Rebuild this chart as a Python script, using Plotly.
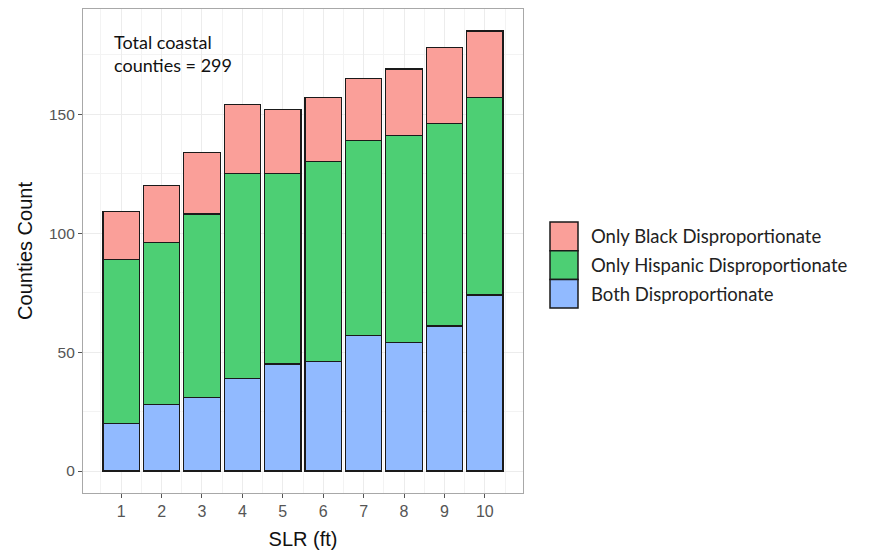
import plotly.graph_objects as go

slr = [1, 2, 3, 4, 5, 6, 7, 8, 9, 10]
both = [20, 28, 31, 39, 45, 46, 57, 54, 61, 74]
only_hispanic = [69, 68, 77, 86, 80, 84, 82, 87, 85, 83]
only_black = [20, 24, 26, 29, 27, 27, 26, 28, 32, 28]

names = ["Only Black Disproportionate", "Only Hispanic Disproportionate", "Both Disproportionate"]
colors = {"Both Disproportionate": "#91BAFF",
          "Only Hispanic Disproportionate": "#4DCF74",
          "Only Black Disproportionate": "#FA9F99"}

fig = go.Figure()
for nm, vals in [("Both Disproportionate", both),
                 ("Only Hispanic Disproportionate", only_hispanic),
                 ("Only Black Disproportionate", only_black)]:
    fig.add_trace(go.Bar(x=slr, y=vals, name=nm, width=0.9,
                         marker=dict(color=colors[nm], line=dict(color="#1a1a1a", width=1.3)),
                         showlegend=False))

OFF = 8  # page body margin
W, H = 874 - OFF, 550 - OFF
# plot panel in page pixels: x 83..523, y 9..493
L = 83 - OFF
T = 9 - OFF
R = W - (523 - OFF)
B = H - (493 - OFF)
pw, ph = W - L - R, H - T - B

def px(x):
    return (x - OFF - L) / pw

def py(y):
    return (H - B - (y - OFF)) / ph

shapes = []
annotations = []
key_top = 222
key_h = 28.7
for i, nm in enumerate(names):
    y0 = key_top + i * key_h
    shapes.append(dict(type="rect", xref="paper", yref="paper",
                       x0=px(550), x1=px(578), y0=py(y0 + key_h), y1=py(y0),
                       fillcolor=colors[nm], line=dict(color="#1a1a1a", width=1.5)))
    annotations.append(dict(xref="paper", yref="paper", x=px(589), y=py(y0 + key_h / 2),
                            xanchor="left", yanchor="middle", showarrow=False, text=nm,
                            font=dict(family="Lato", size=18.5, color="#222222")))

annotations.append(dict(xref="paper", yref="paper", x=px(112), y=py(29),
                        xanchor="left", yanchor="top", align="left", showarrow=False,
                        text="Total coastal<br>counties = 299",
                        font=dict(family="Lato", size=18, color="#111111")))

grid = "#ECECEC"
fig.update_layout(
    width=W, height=H,
    margin=dict(l=L, r=R, t=T, b=B),
    paper_bgcolor="white", plot_bgcolor="white",
    barmode="stack", bargap=0.1,
    shapes=shapes, annotations=annotations,
    font=dict(family="Liberation Sans, Arial", color="#4d4d4d"),
    xaxis=dict(range=[0.055, 10.945], tickvals=slr, ticktext=[str(v) for v in slr],
               showgrid=True, gridcolor=grid, gridwidth=1.2,
               minor=dict(tickvals=[v + 0.5 for v in range(0, 11)], showgrid=True,
                          gridcolor="#F3F3F3", gridwidth=0.8, ticks=""),
               ticks="outside", ticklen=4, tickcolor="#555555", tickwidth=1,
               tickfont=dict(size=16, color="#555555"),
               showline=True, mirror=True, linecolor="#a8a8a8", linewidth=1.2,
               zeroline=False,
               title=dict(text="SLR (ft)", font=dict(size=20, color="#111111"), standoff=13)),
    yaxis=dict(range=[-9.25, 194.25], tickvals=[0, 50, 100, 150],
               showgrid=True, gridcolor=grid, gridwidth=1.2,
               minor=dict(tickvals=[25, 75, 125, 175], showgrid=True,
                          gridcolor="#F3F3F3", gridwidth=0.8, ticks=""),
               ticks="outside", ticklen=4, tickcolor="#555555", tickwidth=1,
               tickfont=dict(size=15.5, color="#555555"),
               showline=True, mirror=True, linecolor="#a8a8a8", linewidth=1.2,
               zeroline=False,
               title=dict(text="Counties Count", font=dict(size=20, color="#111111"), standoff=10)),
)

fig.write_html("out.html")
